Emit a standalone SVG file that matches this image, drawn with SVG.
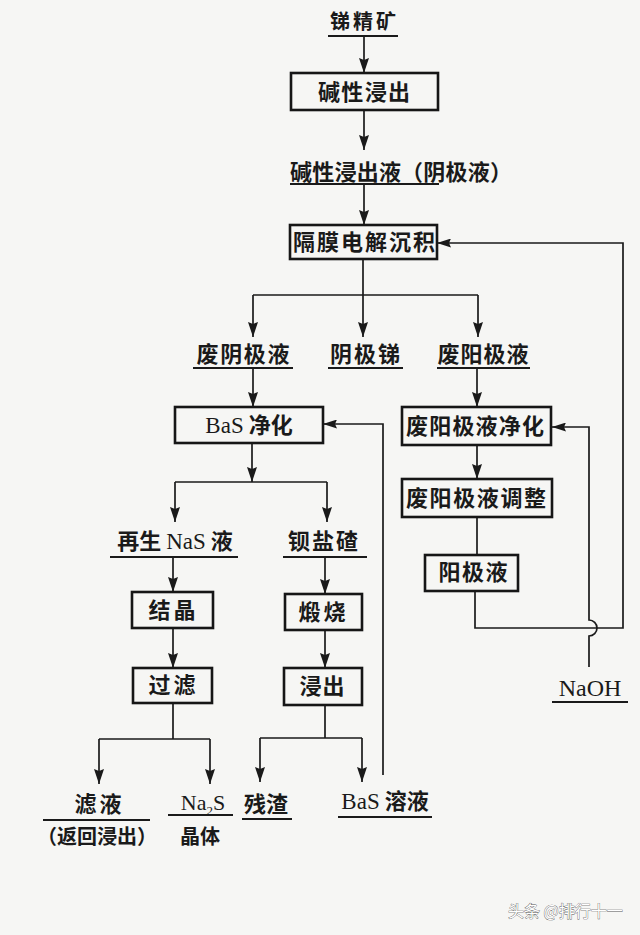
<svg xmlns="http://www.w3.org/2000/svg" width="640" height="935" viewBox="0 0 640 935">
<defs>
<style>
.bg{fill:#f6f6f4}
.box{fill:none;stroke:#161616;stroke-width:2.6}
.ln{fill:none;stroke:#1a1a1a;stroke-width:1.7}
.ul{fill:none;stroke:#1a1a1a;stroke-width:2.2}
.t{font-family:"Noto Sans CJK SC","Noto Sans CJK JP",sans-serif;font-weight:700;fill:#1a1a1a;text-anchor:middle}
.s{font-family:"Liberation Serif",serif;font-weight:400}
.wm{font-family:"Noto Sans CJK SC",sans-serif;font-size:16px;fill:#ffffff;stroke:#555;stroke-width:0.7;paint-order:stroke}
</style>
<marker id="ah" viewBox="0 0 15 10" refX="15" refY="5" markerWidth="15" markerHeight="10" markerUnits="userSpaceOnUse" orient="auto">
<path d="M0,0 L15,5 L0,10 L2,5 Z" fill="#1a1a1a"/>
</marker>
<marker id="ahs" viewBox="0 0 14 9" refX="14" refY="4.5" markerWidth="14" markerHeight="9" markerUnits="userSpaceOnUse" orient="auto">
<path d="M0,0 L14,4.5 L0,9 L2,4.5 Z" fill="#1a1a1a"/>
</marker>
</defs>
<rect class="bg" x="0" y="0" width="640" height="935"/>

<g id="connectors">
<path class="ln" d="M364,36 L364,73" marker-end="url(#ah)"/>
<path class="ln" d="M364,110 L364,150" marker-end="url(#ah)"/>
<path class="ln" d="M364,184 L364,225" marker-end="url(#ah)"/>
<path class="ln" d="M363,259 L363,337" marker-end="url(#ah)"/>
<path class="ln" d="M253,295 L478,295"/>
<path class="ln" d="M253,295 L253,337" marker-end="url(#ah)"/>
<path class="ln" d="M478,295 L478,337" marker-end="url(#ah)"/>
<path class="ln" d="M253,368 L253,407" marker-end="url(#ah)"/>
<path class="ln" d="M477,368 L477,407" marker-end="url(#ah)"/>
<path class="ln" d="M252,443 L252,482" marker-end="url(#ah)"/>
<path class="ln" d="M175,482 L327,482"/>
<path class="ln" d="M175,482 L175,522" marker-end="url(#ah)"/>
<path class="ln" d="M327,482 L327,522" marker-end="url(#ah)"/>
<path class="ln" d="M477,445 L477,479" marker-end="url(#ah)"/>
<path class="ln" d="M477,517 L477,555"/>
<path class="ln" d="M173,557 L173,592" marker-end="url(#ah)"/>
<path class="ln" d="M173,628 L173,668" marker-end="url(#ah)"/>
<path class="ln" d="M173,703 L173,739 M99,739 L210,739"/>
<path class="ln" d="M99,739 L99,784" marker-end="url(#ah)"/>
<path class="ln" d="M210,739 L210,784" marker-end="url(#ah)"/>
<path class="ln" d="M325,557 L325,594" marker-end="url(#ah)"/>
<path class="ln" d="M325,630 L325,668" marker-end="url(#ah)"/>
<path class="ln" d="M325,705 L325,738 M260,738 L362,738"/>
<path class="ln" d="M260,738 L260,782" marker-end="url(#ah)"/>
<path class="ln" d="M362,738 L362,782" marker-end="url(#ah)"/>
<path class="ln" d="M383,775 L383,424 L323,424" marker-end="url(#ahs)"/>
<path class="ln" d="M475,591 L475,628 L623,628 L623,243 L437,243" marker-end="url(#ahs)"/>
<path class="ln" d="M589,667 L589,636 A8,8 0 0,0 589,620 L589,427 L552,427" marker-end="url(#ahs)"/>
</g>

<g id="n-ore">
<text class="t" x="363" y="29" font-size="20" textLength="66" lengthAdjust="spacing">锑精矿</text>
<path class="ul" d="M328,36 L398,36"/>
</g>
<g id="n-leach">
<rect class="box" x="291" y="73" width="147" height="37"/>
<text class="t" x="364" y="100" font-size="22" textLength="92" lengthAdjust="spacing">碱性浸出</text>
</g>
<g id="n-leachate">
<text class="t" x="401" y="180" font-size="22" textLength="222" lengthAdjust="spacing">碱性浸出液（阴极液）</text>
<path class="ul" d="M290,184 L439,184"/>
</g>
<g id="n-electro">
<rect class="box" x="290" y="225" width="147" height="34"/>
<text class="t" x="364" y="250" font-size="22" textLength="142" lengthAdjust="spacing">隔膜电解沉积</text>
</g>
<g id="n-spent-cath">
<text class="t" x="243" y="362" font-size="22" textLength="93" lengthAdjust="spacing">废阴极液</text>
<path class="ul" d="M193,368 L293,368"/>
</g>
<g id="n-cath-sb">
<text class="t" x="365" y="362" font-size="22" textLength="70" lengthAdjust="spacing">阴极锑</text>
<path class="ul" d="M328,368 L403,368"/>
</g>
<g id="n-spent-anode">
<text class="t" x="483" y="362" font-size="22" textLength="91" lengthAdjust="spacing">废阳极液</text>
<path class="ul" d="M437,368 L530,368"/>
</g>
<g id="n-bas-purify">
<rect class="box" x="175" y="407" width="148" height="36"/>
<text class="t" x="249" y="433" font-size="22"><tspan class="s" font-size="23">BaS</tspan> 净化</text>
</g>
<g id="n-anode-purify">
<rect class="box" x="402" y="407" width="149" height="38"/>
<text class="t" x="475" y="434" font-size="22" textLength="138" lengthAdjust="spacing">废阳极液净化</text>
</g>
<g id="n-anode-adjust">
<rect class="box" x="402" y="479" width="150" height="38"/>
<text class="t" x="476" y="506" font-size="22" textLength="140" lengthAdjust="spacing">废阳极液调整</text>
</g>
<g id="n-anolyte">
<rect class="box" x="425" y="555" width="93" height="36"/>
<text class="t" x="473" y="580" font-size="22" textLength="69" lengthAdjust="spacing">阳极液</text>
</g>
<g id="n-naoh">
<text class="t s" x="590" y="696" font-size="24" font-weight="400">NaOH</text>
<path class="ul" d="M552,702 L628,702"/>
</g>
<g id="n-regen">
<text class="t" x="175" y="549" font-size="22">再生 <tspan class="s" font-size="23">NaS</tspan> 液</text>
<path class="ul" d="M110,557 L238,557"/>
</g>
<g id="n-ba-slag">
<text class="t" x="323" y="549" font-size="22" textLength="70" lengthAdjust="spacing">钡盐碴</text>
<path class="ul" d="M283,557 L367,557"/>
</g>
<g id="n-cryst">
<rect class="box" x="132" y="592" width="81" height="36"/>
<text class="t" x="172" y="618" font-size="22" textLength="47" lengthAdjust="spacing">结晶</text>
</g>
<g id="n-calcine">
<rect class="box" x="285" y="594" width="77" height="36"/>
<text class="t" x="322" y="620" font-size="22" textLength="47" lengthAdjust="spacing">煅烧</text>
</g>
<g id="n-filter">
<rect class="box" x="133" y="668" width="79" height="35"/>
<text class="t" x="172" y="693" font-size="22" textLength="47" lengthAdjust="spacing">过滤</text>
</g>
<g id="n-leach2">
<rect class="box" x="284" y="668" width="78" height="37"/>
<text class="t" x="322" y="694" font-size="22" textLength="45" lengthAdjust="spacing">浸出</text>
</g>
<g id="n-filtrate">
<text class="t" x="98" y="812" font-size="22" textLength="47" lengthAdjust="spacing">滤液</text>
<path class="ul" d="M43,820 L150,820"/>
<text class="t" x="97" y="844" font-size="20">（返回浸出）</text>
</g>
<g id="n-na2s">
<text class="t s" x="203" y="810" font-size="22" font-weight="400">Na<tspan font-size="13" dy="5">2</tspan><tspan dy="-5">S</tspan></text>
<path class="ul" d="M168,815 L233,815"/>
<text class="t" x="200" y="844" font-size="20">晶体</text>
</g>
<g id="n-residue">
<text class="t" x="266" y="812" font-size="22" textLength="44" lengthAdjust="spacing">残渣</text>
<path class="ul" d="M242,819 L292,819"/>
</g>
<g id="n-bas-sol">
<text class="t" x="385" y="809" font-size="22"><tspan class="s" font-size="23">BaS</tspan> 溶液</text>
<path class="ul" d="M338,817 L432,817"/>
</g>
<text class="wm" x="508" y="917">头条 @排行十一</text>
</svg>
